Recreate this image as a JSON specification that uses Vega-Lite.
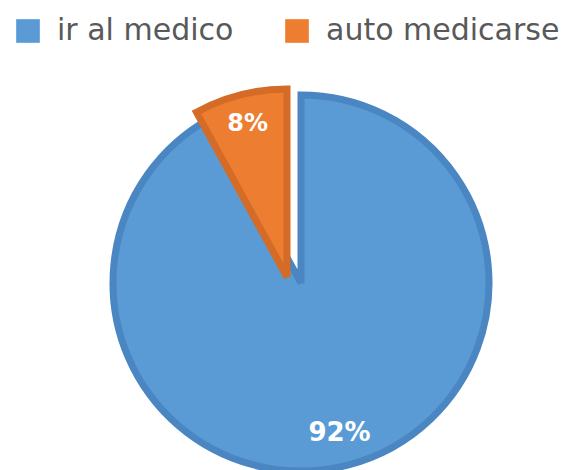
{
  "$schema": "https://vega.github.io/schema/vega-lite/v6.json",
  "width": 582,
  "height": 374,
  "autosize": {"type": "none"},
  "padding": {"top": 96, "left": 0, "right": 0, "bottom": 0},
  "background": "white",
  "config": {"view": {"stroke": null}},
  "data": {"values": [
    {"cat": "ir al medico", "value": 92, "label": "92%"},
    {"cat": "auto medicarse", "value": 8, "label": "8%"}
  ]},
  "encoding": {
    "theta": {"field": "value", "type": "quantitative", "stack": true},
    "order": {"field": "value", "type": "quantitative", "sort": "descending"}
  },
  "layer": [
    {
      "mark": {"type": "arc", "outerRadius": 188, "strokeWidth": 7, "xOffset": 10},
      "encoding": {
        "color": {"field": "cat", "type": "nominal",
          "scale": {"domain": ["ir al medico", "auto medicarse"], "range": ["#5B9BD5", "#ED7D31"]},
          "legend": {"title": null, "orient": "none", "legendX": 13, "legendY": -80, "direction": "horizontal",
            "symbolType": "square", "symbolSize": 560, "symbolStrokeWidth": 0, "symbolOpacity": 1,
            "labelFontSize": 30, "labelFont": "DejaVu Sans", "labelColor": "#595959", "labelOffset": 14,
            "labelLimit": 400, "columnPadding": 48}},
        "stroke": {"field": "cat", "type": "nominal",
          "scale": {"domain": ["ir al medico", "auto medicarse"], "range": ["#4A86C2", "#D46B26"]}, "legend": null},
        "opacity": {"condition": {"test": "datum.cat === 'ir al medico'", "value": 1}, "value": 0}
      }
    },
    {
      "mark": {"type": "arc", "outerRadius": 188, "strokeWidth": 7, "xOffset": -4, "yOffset": -6},
      "encoding": {
        "color": {"field": "cat", "type": "nominal", "legend": null},
        "stroke": {"field": "cat", "type": "nominal", "legend": null},
        "opacity": {"condition": {"test": "datum.cat === 'auto medicarse'", "value": 1}, "value": 0}
      }
    },
    {
      "mark": {"type": "text", "radius": 155, "fontSize": 26, "fontWeight": "bold", "font": "DejaVu Sans", "fill": "white", "xOffset": 10},
      "encoding": {
        "text": {"field": "label"},
        "opacity": {"condition": {"test": "datum.cat === 'ir al medico'", "value": 1}, "value": 0}
      }
    },
    {
      "mark": {"type": "text", "radius": 158, "fontSize": 24, "fontWeight": "bold", "font": "DejaVu Sans", "fill": "white", "xOffset": -4, "yOffset": -6},
      "encoding": {
        "text": {"field": "label"},
        "opacity": {"condition": {"test": "datum.cat === 'auto medicarse'", "value": 1}, "value": 0}
      }
    }
  ]
}
